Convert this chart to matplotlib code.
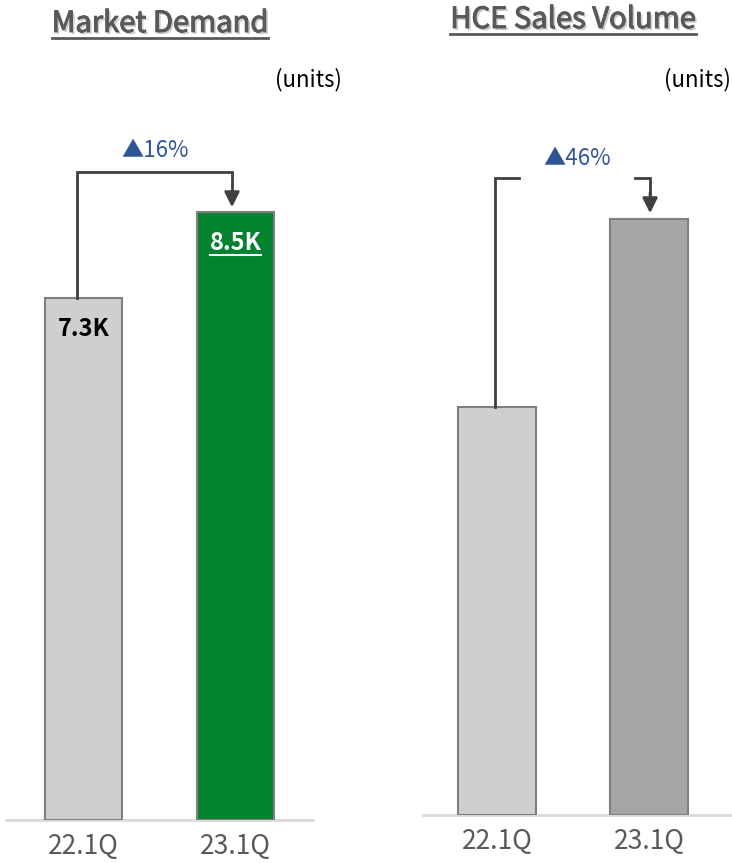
import matplotlib.pyplot as plt
import matplotlib.patheffects as pe
from matplotlib.lines import Line2D

plt.rcParams['font.family'] = ['Noto Sans CJK KR', 'DejaVu Sans']

quarters = ['22.1Q', '23.1Q']
demand = [7300, 8500]          # units
demand_labels = ['7.3K', '8.5K']
hce_index = [1.0, 1.46]        # 22.1Q = 1.0 (no values shown)
demand_growth = '▲16%'
hce_growth = '▲46%'

W, H = 732, 863
fig = plt.figure(figsize=(W / 100, H / 100), dpi=100)

GRAY_TXT = '#595959'
BLUE = '#2F5597'
LINE = '#404040'


def px_axes(left, right, bottom, top):
    return fig.add_axes([left / W, 1 - bottom / H, (right - left) / W, (bottom - top) / H])


def style(ax):
    for s in ['top', 'right', 'left']:
        ax.spines[s].set_visible(False)
    ax.spines['bottom'].set_color('#D9D9D9')
    ax.spines['bottom'].set_linewidth(2)
    ax.set_yticks([])
    ax.tick_params(axis='x', length=0, pad=9, labelsize=19, labelcolor=GRAY_TXT)
    ax.patch.set_alpha(0)


# ---- Market Demand
ax1 = px_axes(6, 313, 820, 100)
ax1.bar([0, 1], demand, width=0.507, color=['#D0CECE', '#03832F'],
        edgecolor='#7F7F7F', linewidth=1.5, zorder=3)
ax1.set_xlim(-0.51, 1.51)
ax1.set_ylim(0, 720 / 71.5 * 1000)
ax1.set_xticks([0, 1], quarters)
style(ax1)

ax1.annotate(demand_labels[0], (0, demand[0]), xytext=(0, -22), textcoords='offset points',
             ha='center', va='center', fontsize=17, fontweight='bold', color='black', zorder=5)
t85 = ax1.annotate(demand_labels[1], (1, demand[1]), xytext=(0, -22), textcoords='offset points',
                   ha='center', va='center', fontsize=17, fontweight='bold', color='white', zorder=5)

top1 = 9060
ax1.plot([-0.043, -0.043, 0.977, 0.977], [demand[0], top1, top1, 8780],
         color=LINE, lw=2, solid_joinstyle='miter', zorder=4)
ax1.annotate('', xy=(0.977, 8570), xytext=(0.977, 8790),
             arrowprops=dict(arrowstyle='-|>,head_width=0.45,head_length=0.9',
                             color=LINE, lw=2, shrinkA=0, shrinkB=0))
ax1.text(0.47, 9370, demand_growth, ha='center', va='center', fontsize=16, color=BLUE)

# ---- HCE Sales Volume
ax2 = px_axes(423, 732, 815, 100)
ax2.bar([0, 1], hce_index, width=0.51, color=['#D0CECE', '#A5A5A5'],
        edgecolor='#7F7F7F', linewidth=1.5, zorder=3)
ax2.set_xlim(-0.487, 1.546)
ax2.set_ylim(0, 715 / 408)
ax2.set_xticks([0, 1], quarters)
style(ax2)

top2 = 1.561
ax2.plot([-0.013, -0.013, 0.145], [hce_index[0], top2, top2],
         color=LINE, lw=2, solid_joinstyle='miter', zorder=4)
ax2.plot([0.908, 1.007, 1.007], [top2, top2, 1.52], color=LINE, lw=2,
         solid_joinstyle='miter', zorder=4)
ax2.annotate('', xy=(1.007, 1.475), xytext=(1.007, 1.525),
             arrowprops=dict(arrowstyle='-|>,head_width=0.45,head_length=0.9',
                             color=LINE, lw=2, shrinkA=0, shrinkB=0))
ax2.text(0.526, 1.61, hce_growth, ha='center', va='center', fontsize=16, color=BLUE)

# ---- titles and units
shadow = [pe.withSimplePatchShadow(offset=(1.5, -1.5), shadow_rgbFace='#BFBFBF', alpha=0.8),
          pe.Stroke(linewidth=0.7, foreground=GRAY_TXT), pe.Normal()]
ttl1 = fig.text(160 / W, 1 - 24 / H, 'Market Demand', ha='center', va='center',
                fontsize=21, fontweight='medium', color=GRAY_TXT, path_effects=shadow)
ttl2 = fig.text(573 / W, 1 - 20 / H, 'HCE Sales Volume', ha='center', va='center',
                fontsize=21, fontweight='medium', color=GRAY_TXT, path_effects=shadow)
fig.text(342 / W, 1 - 80 / H, '(units)', ha='right', va='center', fontsize=16, color='black')
fig.text(731 / W, 1 - 80 / H, '(units)', ha='right', va='center', fontsize=16, color='black')

# underlines under titles and the 8.5K label
fig.canvas.draw()
r = fig.canvas.get_renderer()
for t, col, lw, gap in [(ttl1, GRAY_TXT, 2, 1), (ttl2, GRAY_TXT, 2, 1), (t85, 'white', 1.5, 0)]:
    bb = t.get_window_extent(r)
    y = (bb.y0 + gap) / H
    fig.add_artist(Line2D([bb.x0 / W, bb.x1 / W], [y, y], color=col, lw=lw, zorder=6))

fig.savefig('out.png', dpi=100)
